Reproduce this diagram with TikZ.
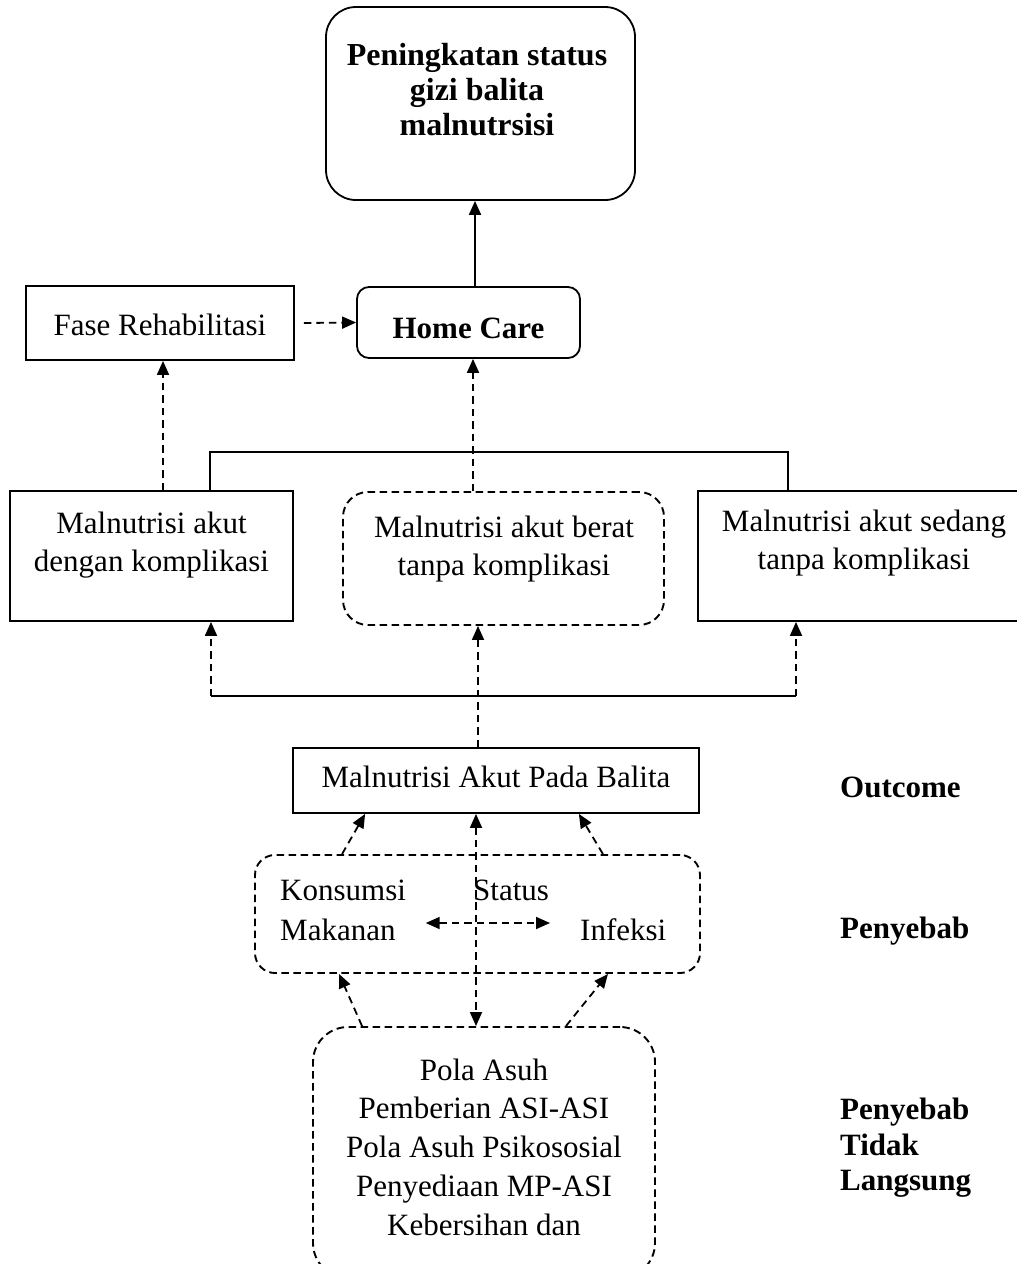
\documentclass[tikz,border=0pt]{standalone}
\usepackage{fontspec}
\setmainfont{Liberation Serif}
\usetikzlibrary{arrows.meta}
\begin{document}
\begin{tikzpicture}[x=1pt,y=-1pt,
 box/.style={draw,line width=1.8pt,inner sep=0pt},
 dbox/.style={draw,line width=1.9pt,dash pattern=on 7.5pt off 4.5pt,inner sep=0pt},
 lbl/.style={inner sep=0pt,font=\fontsize{31}{38.5}\selectfont,align=center},
 blbl/.style={inner sep=0pt,font=\fontsize{32}{35}\selectfont\bfseries,align=center},
 txt/.style={inner sep=0pt,font=\fontsize{31}{38}\selectfont},
 side/.style={inner sep=0pt,font=\fontsize{31}{35}\selectfont\bfseries},
 sline/.style={line width=1.9pt},
 darr/.style={line width=1.8pt,dash pattern=on 7.5pt off 5pt,-{Triangle[length=14pt,width=12pt]}},
 darrr/.style={line width=1.8pt,dash pattern=on 7.5pt off 5pt,{Triangle[length=14pt,width=12pt]}-{Triangle[length=14pt,width=12pt]}},
 sarr/.style={line width=1.9pt,-{Triangle[length=14pt,width=12pt]}}
]
\useasboundingbox (0,0) rectangle (1017,1264);
\clip (0,0) rectangle (1017,1264);

% boxes
\node[box,rounded corners=30pt,minimum width=309pt,minimum height=193pt] (top) at (480.5,103.5) {};
\node[blbl] (toptxt) at (477,90) {Peningkatan status\\gizi balita\\malnutrsisi};

\node[box,rounded corners=12pt,minimum width=223pt,minimum height=71pt,font=\fontsize{31}{35}\selectfont\bfseries,text height=31pt,text depth=0pt] (home) at (468.5,322.5) {Home Care};

\node[box,minimum width=268pt,minimum height=74pt,font=\fontsize{31}{35}\selectfont,text height=24pt,text depth=0pt] (fase) at (160,323) {Fase Rehabilitasi};

\node[box,minimum width=283pt,minimum height=130pt] (mlk) at (151.5,556) {};
\node[lbl] (mlktxt) at (151.5,545) {Malnutrisi akut\\dengan komplikasi};

\node[dbox,rounded corners=25pt,minimum width=321pt,minimum height=133pt] (mab) at (503.5,558.5) {};
\node[lbl] (mabtxt) at (504,549) {Malnutrisi akut berat\\tanpa komplikasi};

\node[box,minimum width=332pt,minimum height=130pt] (mas) at (864,556) {};
\node[lbl] (mastxt) at (864,543) {Malnutrisi akut sedang\\tanpa komplikasi};

\node[box,minimum width=406pt,minimum height=65pt,font=\fontsize{31}{35}\selectfont,text height=21pt,text depth=8pt] (mapb) at (496,780.5) {Malnutrisi Akut Pada Balita};

\node[dbox,rounded corners=20pt,minimum width=445pt,minimum height=118pt] (peny) at (477.5,914) {};
\node[txt,anchor=base west] (kon) at (280,900) {Konsumsi};
\node[txt,anchor=base west] (mak) at (280,940) {Makanan};
\node[txt,anchor=base west] (sta) at (473,900) {Status};
\node[txt,anchor=base west] (inf) at (580,940) {Infeksi};

\node[dbox,rounded corners=35pt,minimum width=342pt,minimum height=251pt] (bot) at (484,1152.5) {};
\node[lbl,font=\fontsize{31}{38.75}\selectfont] (bottxt) at (484,1147) {Pola Asuh\\Pemberian ASI-ASI\\Pola Asuh Psikososial\\Penyediaan MP-ASI\\Kebersihan dan};

% side labels
\node[side,anchor=base west] (out) at (840,797) {Outcome};
\node[side,anchor=base west] (pen) at (840,938) {Penyebab};
\node[side,anchor=west,align=left,font=\fontsize{31}{35.5}\selectfont\bfseries] (ptl) at (840,1148) {Penyebab\\Tidak\\Langsung};

% helper coordinates
\coordinate (x163) at (163,0);
\coordinate (x473) at (473,0);
\coordinate (x475) at (475,0);
\coordinate (x476) at (476,0);
\coordinate (x478) at (478,0);
\coordinate (bl) at (210,452);
\coordinate (br) at (788,452);
\coordinate (ll) at (211,696);
\coordinate (lr) at (796,696);

% connectors
\draw[sarr] (home.north -| x475) -- (top.south -| x475);
\draw[darr] ([xshift=9pt]fase.east) -- (home.west);
\draw[darr] (mlk.north -| x163) -- (fase.south -| x163);
\draw[darr] (mab.north -| x473) -- (home.south -| x473);
\draw[sline] (mlk.north -| bl) -- (bl) -- (br) -- (mas.north -| br);
\draw[sline] (ll) -- (lr);
\draw[darr] (ll) -- (mlk.south -| ll);
\draw[darr] (lr) -- (mas.south -| lr);
\draw[darr] (mapb.north -| x478) -- (mab.south -| x478);
\draw[darr] ([xshift=88pt]peny.north west) -- ([xshift=73pt]mapb.south west);
\draw[darr] ([xshift=-98pt]peny.north east) -- ([xshift=-121pt]mapb.south east);
\draw[darrr] (mapb.south -| x476) -- (bot.north -| x476);
\draw[darr] ([xshift=50pt]bot.north west) -- ([xshift=85pt]peny.south west);
\draw[darr] ([xshift=-90pt]bot.north east) -- ([xshift=-93pt]peny.south east);
\draw[darrr,shorten <=30pt,shorten >=30pt] ([yshift=17pt]mak.base east) -- ([yshift=17pt]inf.base west);
\end{tikzpicture}
\end{document}
